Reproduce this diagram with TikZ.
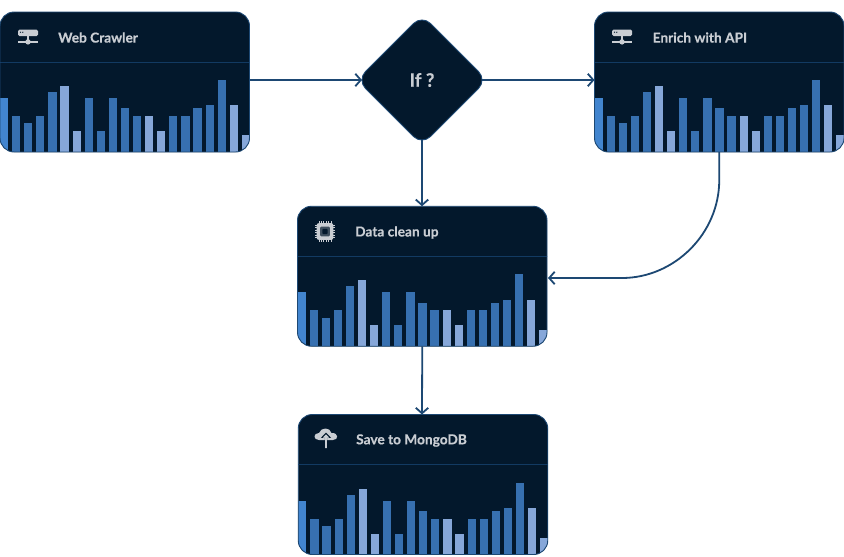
\documentclass[tikz,border=0pt]{standalone}
\usepackage{fontspec}
\setmainfont{Lato}[BoldFeatures={FakeBold=0.35}]
\usetikzlibrary{arrows.meta,shapes.geometric,calc}
\definecolor{navy}{HTML}{03182C}
\definecolor{edge}{HTML}{1D4873}
\definecolor{rulec}{HTML}{123A62}
\definecolor{barA}{HTML}{4285CF}
\definecolor{barB}{HTML}{3770B0}
\definecolor{barC}{HTML}{86A7D9}
\definecolor{txt}{HTML}{C9CDD3}
\newcommand{\drawbars}{%
  \foreach \h [count=\i from 0] in {54,36,28.7,36,60,66,21,54,21,54,43.7,36,36,21,36,36,43.7,46.7,72,46.7,16.7}{%
    \pgfmathsetmacro{\bx}{12.09*\i}%
    \ifnum\i=0 \def\bc{barA}\else
      \ifnum\i=5 \def\bc{barC}\else\ifnum\i=6 \def\bc{barC}\else
      \ifnum\i=12 \def\bc{barC}\else\ifnum\i=13 \def\bc{barC}\else
      \ifnum\i=19 \def\bc{barC}\else\ifnum\i=20 \def\bc{barC}\else
      \def\bc{barB}\fi\fi\fi\fi\fi\fi\fi
    \fill[\bc,sharp corners] ($(path picture bounding box.south west)+(\bx,0)$) rectangle ++(8.2,-\h);
  }%
  \draw[rulec,line width=0.9pt,sharp corners] ($(path picture bounding box.north west)+(0,50)$) -- ++(260,0);
}
\tikzset{
  x=1pt,y=-1pt,
  cardbox/.style={draw=edge,line width=0.9pt,fill=navy,rounded corners=14pt,minimum width=249.5pt,minimum height=140pt,inner sep=0pt,outer sep=0pt,path picture={\drawbars}},
  choice/.style={diamond,aspect=1,draw=edge,line width=0.9pt,fill=navy,rounded corners=12pt,minimum width=130pt,minimum height=130pt,inner sep=0pt,outer sep=0pt,text=txt,font=\fontsize{18.5}{20}\selectfont\bfseries},
  title/.style={anchor=west,text=txt,inner sep=0pt,font=\fontsize{13.7}{15}\selectfont\bfseries},
  link/.style={draw=edge,line width=1.8pt,-{Straight Barb[length=5.5pt,width=12.5pt,line width=1.8pt]}},
  icon/.style={fill=txt,draw=none},
}
\newcommand{\servericon}[2]{%
  \begin{scope}[shift={(#1,#2)}]
    \fill[icon,rounded corners=1.5pt] (-10,-7.5) rectangle (10,-1);
    \fill[navy] (-7.5,-4.8) circle (0.7) (-5.2,-4.8) circle (0.7);
    \fill[icon] (-1,-1) rectangle (1,5);
    \fill[icon] (-10,4.2) rectangle (10,5.6);
    \fill[icon] (0,4.9) circle (2.7);
  \end{scope}}
\begin{document}
\begin{tikzpicture}
\useasboundingbox (0,0) rectangle (844,557);
\fill[white] (0,0) rectangle (844,557);
\node[cardbox] (web) at (124.75,82) {};
\node[cardbox] (enrich) at (719.25,82) {};
\node[cardbox] (clean) at (422.25,276.25) {};
\node[cardbox] (mongo) at (423,484.5) {};
\node[choice] (iff) at (422,80) {If ?};
\node[title] (tweb) at (58,37.5) {Web Crawler};
\node[title] (tenrich) at (652.5,37.5) {Enrich with API};
\node[title] (tclean) at (355,232.5) {Data clean up};
\node[title] (tmongo) at (356,440.5) {Save to MongoDB};
\coordinate (cleanIn) at (548,278);
\draw[link,shorten >=-5pt] (web.east |- iff.west) -- (iff.west);
\draw[link,shorten <=-5pt] (iff.east) -- (enrich.west |- iff.east);
\draw[link,shorten <=-5pt] (iff.south) -- (iff.south |- clean.north);
\draw[link] (enrich.south) -- ++(0,28) .. controls ++(0,54) and (674,278) .. (622,278) -- (cleanIn);
\draw[link] (clean.south) -- (mongo.north -| iff.south);
\servericon{28}{37}
\servericon{622}{37}
% chip
\begin{scope}[shift={(325,231.5)}]
  \foreach \t in {-6,-3.6,-1.2,1.2,3.6,6}{
    \fill[icon] (\t-0.5,-10.2) rectangle (\t+0.5,10.2);
    \fill[icon] (-10.2,\t-0.5) rectangle (10.2,\t+0.5);
  }
  \fill[icon,rounded corners=2pt] (-8.3,-8.3) rectangle (8.3,8.3);
  \fill[navy!70!txt,rounded corners=1pt] (-4.8,-4.8) rectangle (4.8,4.8);
  \fill[navy,rounded corners=0.8pt] (-2.6,-2.6) rectangle (2.6,2.6);
\end{scope}
% cloud upload
\begin{scope}[shift={(326,438.5)}]
  \fill[icon] (-7,1.5) .. controls (-13,1.5) and (-13,-5.5) .. (-7,-5.5)
     .. controls (-5,-11.5) and (4,-11.5) .. (5.5,-5.5)
     .. controls (12.5,-6) and (13,1.5) .. (7,1.5) -- cycle;
  \fill[navy] (0,-6) -- (-5,-0.7) -- (-2.6,-0.7) -- (-1.2,-2) -- (-1.2,2) -- (1.2,2) -- (1.2,-2) -- (2.6,-0.7) -- (5,-0.7) -- cycle;
  \fill[icon] (0,-4.2) -- (-3,-1) -- (-0.8,-1) -- (-0.8,9.5) -- (0.8,9.5) -- (0.8,-1) -- (3,-1) -- cycle;
\end{scope}
\end{tikzpicture}
\end{document}
